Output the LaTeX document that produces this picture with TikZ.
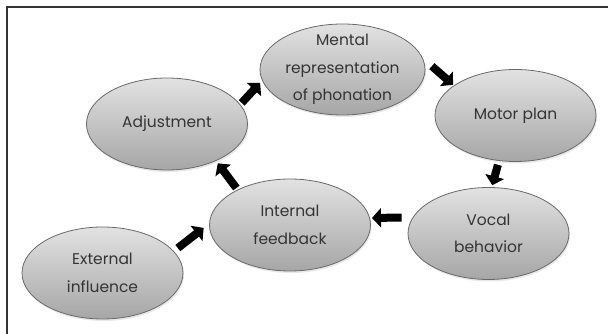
\documentclass[tikz,border=0pt]{standalone}
\usepackage{fontspec}
\setmainfont{Poppins}
\usetikzlibrary{shapes.geometric,arrows.meta,shadows}
\definecolor{blobtop}{RGB}{226,226,226}
\definecolor{blobbot}{RGB}{166,166,166}
\definecolor{blobedge}{RGB}{105,105,105}
\definecolor{inkgray}{RGB}{52,52,52}

\begin{document}
\begin{tikzpicture}[x=1pt,y=1pt,
        blob/.style={ellipse,draw=blobedge,line width=0.8pt,top color=blobtop,bottom color=blobbot,
                     minimum width=161pt,minimum height=92pt,inner sep=0pt,
                     drop shadow={opacity=0.18,shadow xshift=1pt,shadow yshift=-2pt}},
        lbl/.style={align=center,text=inkgray,font=\fontsize{15.5}{27.5}\selectfont},
        blk/.style={line width=8pt,-{Triangle[width=19pt,length=9pt]}}]
               \useasboundingbox (0,0) rectangle (608,334);
               \draw[line width=1.5pt,color=black!80] (7,0) |- (608,327);
               \node[blob,minimum width=165pt,minimum height=91pt] (ment) at (342.5,264.5) {};
               \node[blob] (adj) at (167,210) {};
               \node[blob] (motor) at (515.5,218.5) {};
               \node[blob] (int) at (290,109) {};
               \node[blob] (voc) at (488.5,100.5) {};
               \node[blob] (ext) at (102.5,61) {};
               \node[lbl] (mentT) at (ment) {Mental\\representation\\of phonation};
               \node[lbl] (adjT) at (adj) {Adjustment};
               \node[lbl] (motorT) at (motor) {Motor plan};
               \node[lbl] (intT) at (int) {Internal\\feedback};
               \node[lbl] (vocT) at (voc) {Vocal\\behavior};
               \node[lbl] (extT) at (ext) {External\\influence};
               \draw[blk,shorten <=2pt,shorten >=3pt] (adj.15) -- (ment.188);
               \draw[blk,shorten <=12pt,shorten >=1pt] (ment.8) -- (motor.154);
               \draw[blk,shorten <=4pt,shorten >=2pt] (motor.250) -- (voc.86);
               \draw[blk,shorten <=11pt,shorten >=2pt] (voc.168) -- (int.5);
               \draw[blk,shorten <=2pt,shorten >=3pt] (int.146) -- (adj.-37);
               \draw[blk,shorten <=5pt,shorten >=7pt] (ext.17) -- (int.179);
\end{tikzpicture}
\end{document}
